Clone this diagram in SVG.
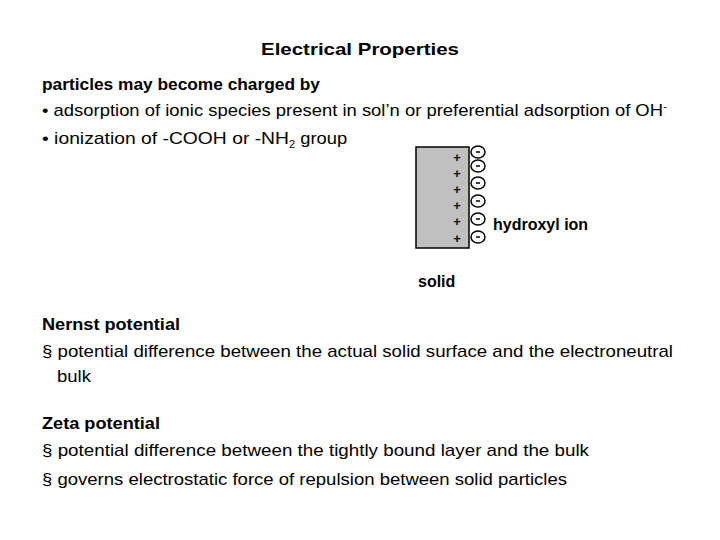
<svg xmlns="http://www.w3.org/2000/svg" width="720" height="540" viewBox="0 0 720 540">
<style>
.t{font-family:"Liberation Sans","Noto Sans",sans-serif;font-size:17px;fill:#000}
.b{font-weight:bold}
.ion{fill:#fff;stroke:#000;stroke-width:1.5}
.s{font-family:"Liberation Sans",sans-serif;font-size:16px;font-weight:bold}
.p{font-family:"Liberation Sans",sans-serif;font-size:13px;font-weight:bold}
</style>
<rect width="720" height="540" fill="#fff"/>
<text class="t b" x="261" y="55" textLength="198" lengthAdjust="spacingAndGlyphs">Electrical Properties</text>
<text class="t b" x="42" y="90" textLength="278" lengthAdjust="spacingAndGlyphs">particles may become charged by</text>
<text class="t" x="42" y="116" textLength="625" lengthAdjust="spacingAndGlyphs">• adsorption of ionic species present in sol’n or preferential adsorption of OH<tspan dy="-6" font-size="11">-</tspan></text>
<text class="t" x="42" y="144"><tspan textLength="247" lengthAdjust="spacingAndGlyphs">• ionization of -COOH or -NH</tspan><tspan dy="4" font-size="11">2</tspan><tspan dy="-4" textLength="52" lengthAdjust="spacingAndGlyphs"> group</tspan></text>
<g id="solid">
<rect x="416" y="147" width="53" height="101" fill="#c0c0c0" stroke="#000" stroke-width="1.5"/>
<g class="p" text-anchor="middle">
<text x="457" y="162">+</text><text x="457" y="178">+</text><text x="457" y="194">+</text><text x="457" y="210">+</text><text x="457" y="226">+</text><text x="457" y="243">+</text>
</g>
<text class="s" x="418" y="287">solid</text>
</g>
<g id="ions">
<ellipse class="ion" cx="478" cy="152" rx="7" ry="6"/><ellipse class="ion" cx="478" cy="166" rx="7" ry="6"/><ellipse class="ion" cx="478" cy="183" rx="7" ry="6"/><ellipse class="ion" cx="478" cy="201" rx="7" ry="6"/><ellipse class="ion" cx="478" cy="219" rx="7" ry="6"/><ellipse class="ion" cx="478" cy="237" rx="7" ry="6"/>
<g stroke="#000" stroke-width="1.5"><line x1="476" y1="152" x2="480" y2="152"/><line x1="476" y1="166" x2="480" y2="166"/><line x1="476" y1="183" x2="480" y2="183"/><line x1="476" y1="201" x2="480" y2="201"/><line x1="476" y1="219" x2="480" y2="219"/><line x1="476" y1="237" x2="480" y2="237"/></g>
<text class="s" x="493" y="230">hydroxyl ion</text>
</g>
<text class="t b" x="42" y="330" textLength="138" lengthAdjust="spacingAndGlyphs">Nernst potential</text>
<text class="t" x="42" y="357" textLength="631" lengthAdjust="spacingAndGlyphs">§ potential difference between the actual solid surface and the electroneutral</text>
<text class="t" x="57" y="382" textLength="34" lengthAdjust="spacingAndGlyphs">bulk</text>
<text class="t b" x="42" y="429" textLength="118" lengthAdjust="spacingAndGlyphs">Zeta potential</text>
<text class="t" x="42" y="456" textLength="547" lengthAdjust="spacingAndGlyphs">§ potential difference between the tightly bound layer and the bulk</text>
<text class="t" x="42" y="485" textLength="525" lengthAdjust="spacingAndGlyphs">§ governs electrostatic force of repulsion between solid particles</text>
</svg>
